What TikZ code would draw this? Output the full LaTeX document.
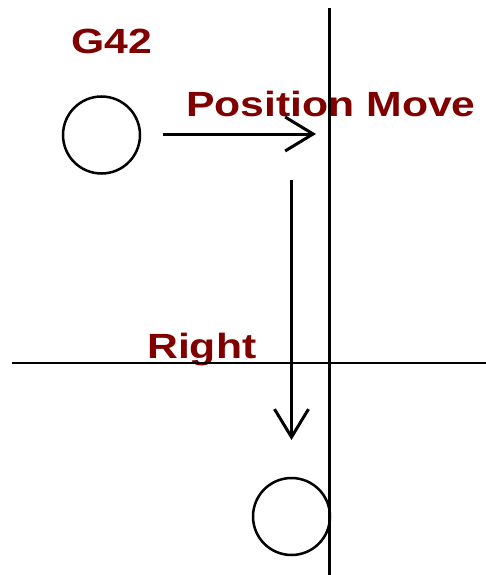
\documentclass[tikz,border=0pt]{standalone}
\usepackage{fontspec}
\setmainfont{Liberation Sans}
\usetikzlibrary{arrows.meta}
\definecolor{tagred}{RGB}{128,0,0}

\begin{document}
\begin{tikzpicture}[
  x=1pt, y=-1pt,
  tool/.style={circle, draw=black, line width=2.5pt, minimum size=77pt, inner sep=0pt},
  tag/.style={text=tagred, font=\fontsize{35}{35}\selectfont\bfseries, inner sep=0pt,
              anchor=base west, xscale=1.22, transform shape},
  move/.style={-{Straight Barb[length=28pt, width=34pt]}, line width=3pt},
  wall/.style={draw=black, line width=3pt},
  axis/.style={draw=black, line width=1.5pt}
]
\useasboundingbox (0,0) rectangle (486,575);

% labels
\node[tag] (g42) at (71,54) {G42};
\node[tag] (posmove) at (186,117) {Position Move};
\node[tag] (right) at (147,358) {Right};

% tool positions
\node[tool] (start) at (101.5,135) {};
\node[tool] (end) at (291.5,516.5) {};

% wall and crossing line
\coordinate (walltop) at (329,8);
\coordinate (wallbot) at (329,575);
\coordinate (axisleft) at (12,363);
\coordinate (axisright) at (486,363);
\draw[wall] (walltop) -- (wallbot);
\draw[axis] (axisleft) -- (axisright);

% moves
\coordinate (movea) at (163,134);
\coordinate (moveb) at (316,134);
\coordinate (movec) at (291.5,180);
\coordinate (moved) at (291.5,440);
\draw[move] (movea) -- (moveb);
\draw[move] (movec) -- (moved);
\end{tikzpicture}
\end{document}
